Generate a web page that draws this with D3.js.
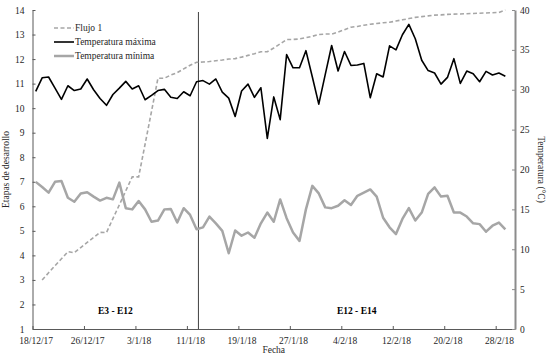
<html>

<head>
  <script src="https://d3js.org/d3.v7.min.js"></script>
  <style>
    body { margin: 0; background: #fff; }
    text { font-family: "Liberation Serif", "Times New Roman", serif; fill: #262626; }
    .axis .domain { stroke: #595959; }
    .axis line { stroke: #595959; }
    .axis.der .domain { stroke: #8c8c8c; stroke-width: 2; }
    .axis.der line { stroke: #8c8c8c; }
  </style>
</head>

<body>
  <svg id="chart" width="550" height="357"></svg>
  <script>
    // datos diarios: 18/12/17 ... 1/3/18 (74 dias)
    const fechaInicio = "18/12/17";
    const tempMax = [29.8, 31.5, 31.6, 30.2, 28.8, 30.5, 29.9, 30.1, 31.35, 30.0,
      28.9, 28.05, 29.4, 30.2, 31.05, 30.1, 30.5, 28.75, 29.3, 29.9,
      30.05, 29.05, 28.9, 29.75, 29.25, 31.0, 31.15, 30.7, 31.35, 29.7,
      28.95, 26.65, 29.85, 30.7, 29.05, 30.25, 23.9, 29.1, 26.25, 34.4,
      32.75, 32.75, 34.9, 31.6, 28.2, 31.9, 35.55, 32.35, 34.8, 33.05,
      33.1, 33.3, 29.0, 32.0, 31.6, 35.5, 35.0, 36.9, 38.2, 36.4,
      33.7, 32.4, 32.1, 30.7, 31.55, 33.9, 30.8, 32.35, 32.0, 31.0,
      32.3, 31.85, 32.1, 31.7];
    const tempMin = [18.45, 17.8, 17.1, 18.45, 18.55, 16.45, 15.95, 17.0, 17.15, 16.6,
      16.1, 16.45, 16.25, 18.35, 15.15, 15.0, 16.05, 15.0, 13.45, 13.6,
      15.0, 15.05, 13.35, 15.15, 14.3, 12.5, 12.75, 14.1, 13.25, 12.3,
      9.5, 12.35, 11.7, 12.1, 11.45, 13.25, 14.6, 13.45, 16.25, 13.9,
      12.1, 11.05, 15.0, 17.95, 17.0, 15.25, 15.15, 15.45, 16.15, 15.55,
      16.7, 17.1, 17.5, 16.6, 13.95, 12.75, 11.9, 13.8, 15.15, 13.6,
      14.6, 16.95, 17.75, 16.6, 16.7, 14.6, 14.6, 14.1, 13.25, 13.15,
      12.2, 12.95, 13.35, 12.5];
    // Flujo 1 (etapas), empieza el 19/12/17
    const flujo1 = [null, 3.0, 3.29, 3.58, 3.86, 4.15, 4.11, 4.32, 4.53, 4.73,
      4.94, 4.93, 5.5, 6.06, 6.63, 7.2, 7.2, 8.53, 9.87, 11.22,
      11.22, 11.35, 11.45, 11.6, 11.75, 11.87, 11.88, 11.9, 11.93, 11.96,
      12.0, 12.02, 12.08, 12.15, 12.22, 12.3, 12.3, 12.45, 12.62, 12.8,
      12.8, 12.82, 12.87, 12.93, 13.0, 13.02, 13.02, 13.1, 13.2, 13.3,
      13.33, 13.38, 13.42, 13.45, 13.48, 13.5, 13.55, 13.6, 13.65, 13.7,
      13.73, 13.76, 13.79, 13.8, 13.82, 13.83, 13.84, 13.85, 13.86, 13.87,
      13.88, 13.89, 13.9, 14.0];
    const ticksFecha = ["18/12/17", "26/12/17", "3/1/18", "11/1/18", "19/1/18",
      "27/1/18", "4/2/18", "12/2/18", "20/2/18", "28/2/18"];
    const finEje = "3/3/18";
    const ticksEtapa = [1, 2, 3, 4, 5, 6, 7, 8, 9, 10, 11, 12, 13, 14];
    const ticksTemp = [0, 5, 10, 15, 20, 25, 30, 35, 40];
    const fechaDivision = "12/1/18 19";
    const fases = ["E3 - E12", "E12 - E14"];
    const leyenda = ["Flujo 1", "Temperatura máxima", "Temperatura mínima"];

    const svg = d3.select("#chart");
    const margin = { top: 10, right: 35, bottom: 28, left: 32.5 };
    const width = +svg.attr("width");
    const height = +svg.attr("height");
    const chartWidth = width - margin.left - margin.right;
    const chartHeight = height - margin.top - margin.bottom;

    const parseDate = d3.timeParse("%d/%m/%y");
    const parseHour = d3.timeParse("%d/%m/%y %H");
    const inicio = parseDate(fechaInicio);
    // cada valor se dibuja al mediodia de su dia
    const fechas = tempMax.map((d, i) => d3.timeHour.offset(d3.timeDay.offset(inicio, i), 12));

    const xScale = d3.scaleTime().domain([inicio, parseDate(finEje)]).range([0, chartWidth]);
    const yEtapa = d3.scaleLinear().domain([1, 14]).range([chartHeight, 0]);
    const yTemp = d3.scaleLinear().domain([0, 40]).range([chartHeight, 0]);

    const chart = svg.append("g").attr("transform", `translate(${margin.left},${margin.top})`);

    const halfDay = xScale(d3.timeHour.offset(inicio, 12)) - xScale(inicio);

    // ejes
    const xAxis = d3.axisBottom(xScale)
      .tickValues(ticksFecha.map(parseDate))
      .tickFormat((d, i) => ticksFecha[i])
      .tickSizeInner(-3).tickSizeOuter(0).tickPadding(8);
    const gx = chart.append("g").attr("class", "axis")
      .attr("transform", `translate(0,${chartHeight})`)
      .call(xAxis);
    gx.selectAll("text").attr("dx", halfDay).style("font-size", "9.5px").style("fill", "#262626");

    const yAxisL = d3.axisLeft(yEtapa).tickValues(ticksEtapa)
      .tickSizeInner(-3).tickSizeOuter(0).tickPadding(8);
    const gy = chart.append("g").attr("class", "axis").call(yAxisL);
    gy.selectAll("text").style("font-size", "9.5px").style("fill", "#262626");

    const yAxisR = d3.axisRight(yTemp).tickValues(ticksTemp)
      .tickSizeInner(-3).tickSizeOuter(0).tickPadding(5);
    const gr = chart.append("g").attr("class", "axis der")
      .attr("transform", `translate(${chartWidth},0)`)
      .call(yAxisR);
    gr.selectAll("text").style("font-size", "9.5px").style("fill", "#262626");

    // linea de division
    const xDiv = xScale(parseHour(fechaDivision));
    chart.append("line")
      .attr("x1", xDiv).attr("x2", xDiv)
      .attr("y1", 2).attr("y2", chartHeight)
      .style("stroke", "#404040").style("stroke-width", 1);

    // series
    const lineFlujo = d3.line()
      .defined(d => d != null)
      .x((d, i) => xScale(fechas[i]))
      .y(d => yEtapa(d));
    const lineTemp = d3.line()
      .x((d, i) => xScale(fechas[i]))
      .y(d => yTemp(d));

    chart.append("path").attr("d", lineTemp(tempMin))
      .style("fill", "none").style("stroke", "#a6a6a6").style("stroke-width", 2.5)
      .style("stroke-linejoin", "round");
    chart.append("path").attr("d", lineFlujo(flujo1))
      .style("fill", "none").style("stroke", "#a6a6a6").style("stroke-width", 1.6)
      .style("stroke-dasharray", "4,2.5");
    chart.append("path").attr("d", lineTemp(tempMax))
      .style("fill", "none").style("stroke", "#000").style("stroke-width", 1.6)
      .style("stroke-linejoin", "round");

    // etiquetas de fases
    const xFin = xScale.range()[1];
    const centros = [xDiv / 2, (xDiv + xFin) / 2];
    chart.selectAll("text.fase").data(fases).join("text")
      .attr("class", "fase")
      .attr("x", (d, i) => centros[i])
      .attr("y", yEtapa(1.75))
      .attr("dy", "0.35em")
      .attr("text-anchor", "middle")
      .style("font-size", "9.5px").style("font-weight", "bold").style("fill", "#000")
      .text(d => d);

    // leyenda
    const estilos = [
      { stroke: "#a6a6a6", width: 1.6, dash: "4,2.5" },
      { stroke: "#000", width: 1.6, dash: null },
      { stroke: "#a6a6a6", width: 2.5, dash: null }
    ];
    const leg = svg.append("g").attr("transform", "translate(54,28)");
    const items = leg.selectAll("g").data(leyenda).join("g")
      .attr("transform", (d, i) => `translate(0,${i * 14})`);
    items.append("line")
      .attr("x1", 0).attr("x2", 20)
      .style("stroke", (d, i) => estilos[i].stroke)
      .style("stroke-width", (d, i) => estilos[i].width)
      .style("stroke-dasharray", (d, i) => estilos[i].dash);
    items.append("text")
      .attr("x", 21).attr("dy", "0.35em")
      .style("font-size", "9.5px")
      .text(d => d);

    // titulos de ejes
    svg.append("text")
      .attr("x", margin.left + chartWidth / 2).attr("y", 353)
      .attr("text-anchor", "middle").style("font-size", "9.5px")
      .text("Fecha");
    svg.append("text")
      .attr("transform", `translate(9,${margin.top + chartHeight / 2}) rotate(-90)`)
      .attr("text-anchor", "middle").style("font-size", "9.5px")
      .text("Etapas de desarrollo");
    svg.append("text")
      .attr("transform", `translate(538,${margin.top + chartHeight / 2}) rotate(90)`)
      .attr("text-anchor", "middle").style("font-size", "9.5px")
      .text("Temperatura (°C)");
  </script>
</body>

</html>
